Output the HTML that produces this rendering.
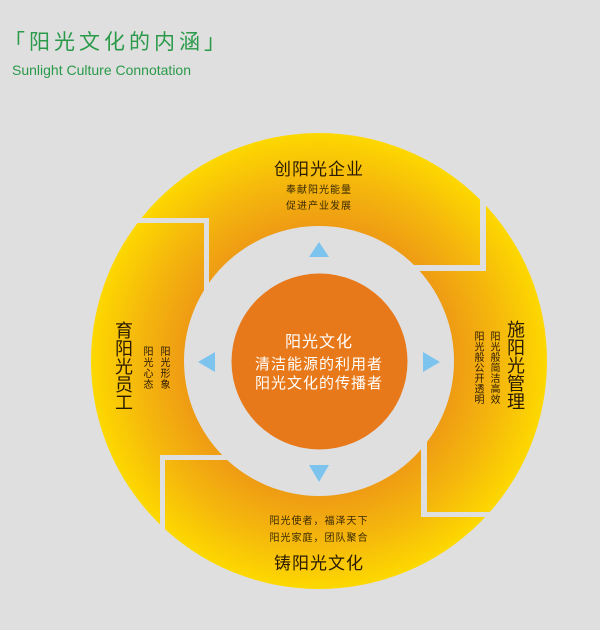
<!DOCTYPE html>
<html><head><meta charset="utf-8"><style>
body{margin:0;width:600px;height:630px;background:#dfdfdf;position:relative;overflow:hidden;font-family:"Liberation Sans","Noto Sans CJK SC",sans-serif}
.a{position:absolute;white-space:nowrap}
.v{position:absolute;writing-mode:vertical-rl;text-orientation:upright;color:#2a1a00}
</style></head><body>
<svg width="600" height="630" style="position:absolute;left:0;top:0">
<defs>
<radialGradient id="g" cx="319" cy="361" r="228" gradientUnits="userSpaceOnUse">
<stop offset="0.58" stop-color="#ee9a14"/><stop offset="0.8" stop-color="#f5b80c"/><stop offset="1" stop-color="#fdd800"/>
</radialGradient>
</defs>
<circle cx="319" cy="361" r="228" fill="url(#g)"/>
<g fill="#dfdfdf">
<rect x="80" y="218" width="129" height="5"/>
<rect x="204" y="218" width="5" height="90"/>
<rect x="480" y="120" width="6" height="151"/>
<rect x="400" y="265" width="86" height="6"/>
<rect x="421" y="420" width="6" height="97"/>
<rect x="421" y="512" width="140" height="5"/>
<rect x="160" y="455" width="80" height="5"/>
<rect x="160" y="455" width="5" height="150"/>
</g>
<circle cx="319" cy="361" r="135" fill="#dfdfdf"/>
<circle cx="319.5" cy="361.5" r="88" fill="#e8791a"/>
<g fill="#7cc4ee">
<polygon points="319,242 309,257 329,257"/>
<polygon points="319,482 309,465 329,465"/>
<polygon points="198,362 215,352 215,372"/>
<polygon points="440,362 423,352 423,372"/>
</g>
</svg>
<div class="a" style="left:4px;top:26px;font-size:21px;letter-spacing:4px;color:#2a9a4a">「阳光文化的内涵」</div>
<div class="a" style="left:12px;top:62px;font-size:14px;color:#2a9a4a">Sunlight Culture Connotation</div>

<div class="a" style="left:219px;width:200px;text-align:center;top:155px;font-size:17px;letter-spacing:1px;color:#2a1a00">创阳光企业</div>
<div class="a" style="left:219px;width:200px;text-align:center;top:181px;font-size:10px;letter-spacing:1px;color:#3a2a00">奉献阳光能量</div>
<div class="a" style="left:219px;width:200px;text-align:center;top:197px;font-size:10px;letter-spacing:1px;color:#3a2a00">促进产业发展</div>

<div class="a" style="left:219px;width:200px;text-align:center;top:512px;font-size:10px;letter-spacing:1px;color:#3a2a00">阳光使者，福泽天下</div>
<div class="a" style="left:219px;width:200px;text-align:center;top:529px;font-size:10px;letter-spacing:1px;color:#3a2a00">阳光家庭，团队聚合</div>
<div class="a" style="left:219px;width:200px;text-align:center;top:549px;font-size:17px;letter-spacing:1px;color:#2a1a00">铸阳光文化</div>

<div class="a" style="left:219px;width:200px;text-align:center;top:328px;font-size:16px;letter-spacing:1px;color:#fff">阳光文化</div>
<div class="a" style="left:219px;width:200px;text-align:center;top:353px;font-size:15px;letter-spacing:1px;color:#fff">清洁能源的利用者</div>
<div class="a" style="left:219px;width:200px;text-align:center;top:372px;font-size:15px;letter-spacing:1px;color:#fff">阳光文化的传播者</div>

<div class="v" style="left:113px;top:321px;font-size:18px;line-height:20px">育阳光员工</div>
<div class="v" style="left:140px;top:346px;font-size:10px;line-height:12px;letter-spacing:1px">阳光心态</div>
<div class="v" style="left:157px;top:346px;font-size:10px;line-height:12px;letter-spacing:1px">阳光形象</div>

<div class="v" style="left:505px;top:320px;font-size:18px;line-height:20px">施阳光管理</div>
<div class="v" style="left:487px;top:331px;font-size:10px;line-height:12px;letter-spacing:0.5px">阳光般简洁高效</div>
<div class="v" style="left:471px;top:331px;font-size:10px;line-height:12px;letter-spacing:0.5px">阳光般公开透明</div>
</body></html>
